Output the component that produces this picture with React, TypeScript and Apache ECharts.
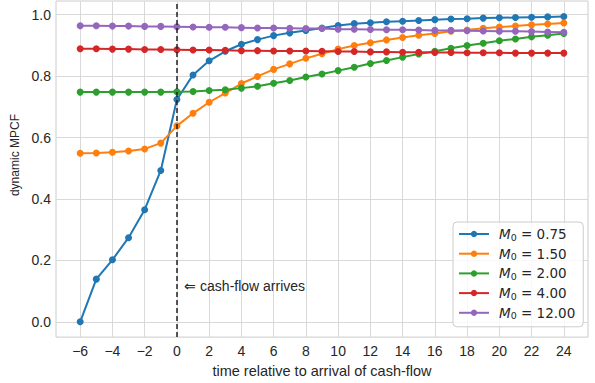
import React, { useEffect, useRef } from "react";
import * as echarts from "echarts";

const xValues = [-6,-5,-4,-3,-2,-1,0,1,2,3,4,5,6,7,8,9,10,11,12,13,14,15,16,17,18,19,20,21,22,23,24];
const m0Labels = ["0.75", "1.50", "2.00", "4.00", "12.00"];
const s075 = [0, 0.139, 0.202, 0.274, 0.365, 0.493, 0.724, 0.804, 0.850, 0.881, 0.904, 0.919, 0.932, 0.941, 0.949, 0.957, 0.965, 0.971, 0.974, 0.977, 0.979, 0.981, 0.984, 0.986, 0.987, 0.989, 0.990, 0.991, 0.992, 0.993, 0.994];
const s150 = [0.549, 0.550, 0.552, 0.556, 0.563, 0.582, 0.638, 0.679, 0.715, 0.745, 0.776, 0.799, 0.822, 0.840, 0.858, 0.873, 0.888, 0.900, 0.909, 0.918, 0.926, 0.933, 0.939, 0.946, 0.950, 0.956, 0.960, 0.963, 0.967, 0.970, 0.973];
const s200 = [0.748, 0.748, 0.748, 0.748, 0.748, 0.748, 0.749, 0.750, 0.753, 0.756, 0.761, 0.767, 0.777, 0.786, 0.797, 0.807, 0.818, 0.829, 0.841, 0.851, 0.862, 0.872, 0.881, 0.891, 0.900, 0.907, 0.915, 0.921, 0.928, 0.933, 0.939];
const s400 = [0.889, 0.889, 0.888, 0.888, 0.887, 0.887, 0.886, 0.885, 0.885, 0.884, 0.883, 0.883, 0.882, 0.882, 0.882, 0.881, 0.880, 0.880, 0.879, 0.879, 0.878, 0.878, 0.877, 0.877, 0.876, 0.876, 0.876, 0.875, 0.875, 0.875, 0.875];
const s1200 = [0.964, 0.964, 0.963, 0.963, 0.962, 0.962, 0.961, 0.960, 0.959, 0.959, 0.958, 0.957, 0.957, 0.956, 0.955, 0.955, 0.953, 0.953, 0.952, 0.951, 0.951, 0.950, 0.949, 0.949, 0.948, 0.947, 0.946, 0.946, 0.945, 0.944, 0.943];
const xTicks = [-6,-4,-2,0,2,4,6,8,10,12,14,16,18,20,22,24];
const yTicks = [0, 0.2, 0.4, 0.6, 0.8, 1.0];
const colors = ["#1f77b4", "#ff7f0e", "#2ca02c", "#d62728", "#9467bd"];
const annotationText = "⇐ cash-flow arrives";

const FONT = "'Liberation Sans', Arial, sans-serif";
const TXT = "#262626";

export default function App() {
  const ref = useRef<HTMLDivElement>(null);
  useEffect(() => {
    if (!ref.current) return;
    const chart = echarts.init(ref.current, null, { renderer: "svg" });
    const all = [s075, s150, s200, s400, s1200];
    const series: any[] = all.map((vals, i) => ({
      type: "line",
      name: "M0 = " + m0Labels[i],
      data: xValues.map((x, j) => [x, vals[j]]),
      symbol: "circle",
      symbolSize: 7,
      showSymbol: true,
      clip: false,
      lineStyle: { width: 2, color: colors[i] },
      itemStyle: { color: colors[i] },
      emphasis: { disabled: true },
    }));
    series[0].markLine = {
      silent: true,
      symbol: ["none", "none"],
      label: { show: false },
      lineStyle: { color: "#222222", type: [5, 3], width: 1.5 },
      data: [{ xAxis: 0 }],
      z: 10,
    };
    series[0].markPoint = {
      silent: true,
      symbol: "circle",
      symbolSize: 0,
      itemStyle: { color: "transparent" },
      label: {
        show: true,
        position: "right",
        distance: 0,
        formatter: annotationText,
        fontFamily: FONT,
        fontSize: 14,
        color: TXT,
      },
      data: [{ coord: [0.45, 0.117] }],
    };
    chart.setOption({
      animation: false,
      textStyle: { fontFamily: FONT },
      grid: {
        left: 56,
        top: 1,
        width: 532,
        height: 337,
        show: true,
        borderColor: "#cccccc",
        borderWidth: 1,
        backgroundColor: "#ffffff",
      },
      xAxis: {
        type: "value",
        min: -7.5,
        max: 25.5,
        name: "time relative to arrival of cash-flow",
        nameLocation: "middle",
        nameGap: 22,
        nameTextStyle: { fontSize: 14.5, color: TXT, fontFamily: FONT },
        axisLine: { show: false },
        axisTick: { show: false, customValues: xTicks },
        splitLine: { show: true, lineStyle: { color: "#d9d9d9", width: 1 }, customValues: xTicks },
        axisLabel: {
          customValues: xTicks,
          fontSize: 14,
          color: TXT,
          margin: 7,
          fontFamily: FONT,
          formatter: (v: number) => (v < 0 ? "\u2212" + Math.abs(v) : String(v)),
        },
      },
      yAxis: {
        type: "value",
        min: -0.0497,
        max: 1.0447,
        name: "dynamic MPCF",
        nameLocation: "middle",
        nameGap: 32,
        nameTextStyle: { fontSize: 12, color: TXT, fontFamily: FONT, padding: [0, 0, 0, 28] },
        axisLine: { show: false },
        axisTick: { show: false, customValues: yTicks },
        splitLine: { show: true, lineStyle: { color: "#d9d9d9", width: 1 }, customValues: yTicks },
        axisLabel: {
          customValues: yTicks,
          fontSize: 14,
          color: TXT,
          margin: 5,
          fontFamily: FONT,
          formatter: (v: number) => v.toFixed(1),
        },
      },
      legend: {
        left: 453,
        top: 222,
        orient: "vertical",
        padding: [5, 8, 6, 5],
        itemWidth: 30,
        itemHeight: 8,
        itemGap: 4.7,
        backgroundColor: "rgba(255,255,255,0.8)",
        borderColor: "#cccccc",
        borderWidth: 1,
        borderRadius: 4,
        selectedMode: false,
        formatter: (name: string) => {
          const v = name.split("= ")[1];
          return "{i|M}{s|0}{n| = " + v + "}";
        },
        textStyle: {
          color: TXT,
          fontFamily: "'DejaVu Sans'",
          fontSize: 13.5,
          padding: [0, 0, 0, 5],
          rich: {
            i: { fontStyle: "italic", fontFamily: "'DejaVu Sans'", fontSize: 13.5, color: TXT, lineHeight: 16, verticalAlign: "middle" },
            s: { fontFamily: "'DejaVu Sans'", fontSize: 9.5, color: TXT, lineHeight: 8, verticalAlign: "bottom" },
            n: { fontFamily: "'DejaVu Sans'", fontSize: 13.5, color: TXT, lineHeight: 16, verticalAlign: "middle" },
          },
        },
      },
      series,
    });
    return () => chart.dispose();
  }, []);
  return (
    <div
      ref={ref}
      style={{ position: "fixed", left: 0, top: 0, width: 595, height: 383, background: "#fff" }}
    />
  );
}
